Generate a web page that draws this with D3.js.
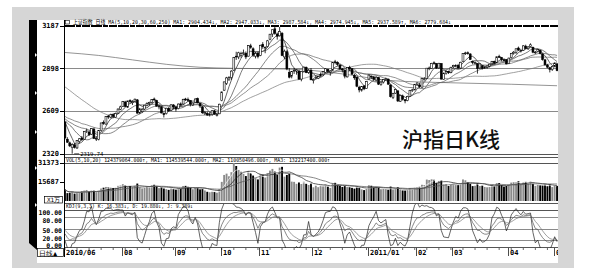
<!DOCTYPE html>
<html>
<head>
<meta charset="utf-8">
<script src="https://d3js.org/d3.v7.min.js"></script>
<style>
  body { margin: 0; background: #fff; }
  svg { display: block; }
  .num { font-family: "DejaVu Sans Mono", monospace; font-size: 7px; font-weight: bold; fill: #000; }
  .hdr { font-family: "DejaVu Sans Mono", "Noto Sans CJK SC", monospace; font-size: 5.5px; fill: #000; }
  .title { font-family: "Noto Sans CJK SC", sans-serif; font-size: 21px; font-weight: 500; fill: #111; }
</style>
</head>
<body>
<div id="chart"></div>
<script>
// trading days per month, 2010/06 .. 2011/05
var monthLabels = ["2010/06", "07", "08", "09", "10", "11", "12", "2011/01", "02", "03", "04", "05"];
var monthDays = [2, 22, 22, 19, 16, 22, 23, 20, 15, 23, 19, 2];

// closes before the first visible day (for the moving averages)
var warmCloses = [3109,
  3148, 3129, 3156, 3161, 3125, 3157, 3134, 3165, 3166, 3173, 3130, 2980, 2999, 3033, 2994, 2983, 3015, 2929, 2921, 2871, 2870,
  2835, 2857, 2739, 2688, 2698, 2642, 2667, 2698, 2697, 2565, 2581, 2588, 2560, 2584, 2666, 2568, 2601, 2638, 2655, 2592,
  2553, 2571, 2561, 2553, 2528, 2524, 2573, 2569, 2568, 2536, 2514, 2587, 2585, 2569, 2575, 2552, 2536];

// daily [open, high, low, close]
var ohlc = [
  [2535,2536,2417,2427],[2418,2432,2393,2398],
  [2393,2402,2365,2373],[2361,2391,2320,2383],[2380,2392,2355,2363],[2359,2412,2352,2409],[2402,2425,2390,2421],[2426,2440,2406,2415],[2418,2473,2415,2470],[2472,2490,2460,2475],[2467,2478,2440,2449],[2452,2494,2448,2490],[2487,2496,2420,2424],[2419,2437,2406,2424],[2417,2480,2410,2476],[2476,2530,2472,2528],[2530,2545,2516,2527],[2520,2575,2518,2572],[2574,2584,2556,2572],[2567,2591,2560,2585],[2584,2594,2560,2573],[2567,2598,2564,2592],[2594,2627,2590,2622],[2621,2645,2615,2637],
  [2640,2677,2637,2672],[2670,2678,2635,2640],[2635,2679,2629,2677],[2680,2688,2660,2673],[2665,2682,2650,2672],[2675,2693,2670,2689],[2684,2690,2590,2595],[2596,2630,2588,2623],[2604,2630,2595,2621],[2622,2650,2615,2648],[2645,2668,2640,2661],[2660,2672,2645,2667],[2668,2690,2660,2686],[2690,2700,2675,2688],[2680,2685,2638,2642],[2640,2655,2620,2642],[2638,2641,2592,2596],[2591,2600,2565,2589],[2591,2631,2585,2628],[2627,2635,2603,2610],[2613,2655,2610,2651],[2650,2655,2620,2638],
  [2637,2640,2605,2622],[2625,2660,2620,2656],[2657,2667,2640,2655],[2656,2692,2653,2688],[2690,2698,2677,2689],[2686,2700,2672,2683],[2680,2683,2640,2657],[2650,2668,2643,2663],[2668,2695,2665,2690],[2693,2700,2660,2664],[2660,2664,2630,2643],[2637,2642,2590,2597],[2590,2610,2582,2598],[2593,2605,2576,2582],[2580,2600,2572,2588],[2585,2615,2575,2611],[2610,2617,2585,2587],[2580,2595,2572,2586],[2590,2658,2588,2655],
  [2680,2740,2675,2738],[2750,2808,2745,2806],[2795,2840,2785,2833],[2825,2845,2812,2836],[2835,2885,2820,2879],[2885,2975,2880,2971],[2980,3010,2955,2978],[2975,3010,2960,3003],[2985,3010,2970,2998],[3000,3025,2990,3003],[3000,3012,2960,2975],[2980,3055,2978,3051],[3050,3064,3030,3040],[3030,3040,2975,2987],[2980,3010,2965,2999],[3000,3010,2965,2978],
  [2985,3057,2980,3054],[3060,3075,3030,3044],[3040,3045,3000,3041],[3045,3090,3040,3084],[3095,3130,3088,3129],[3130,3160,3110,3159],[3165,3180,3125,3135],[3130,3140,3092,3115],[3118,3187,3112,3147],[3135,3144,2980,2985],[2975,3025,2960,3014],[3010,3020,2885,2894],[2870,2900,2830,2838],[2845,2880,2830,2875],[2880,2900,2860,2884],[2880,2893,2855,2888],[2880,2885,2820,2825],[2825,2880,2810,2877],[2876,2910,2870,2906],[2905,2910,2865,2870],[2870,2893,2860,2885],[2885,2900,2818,2820],
  [2815,2830,2795,2823],[2828,2850,2820,2837],[2830,2848,2825,2842],[2845,2870,2840,2857],[2855,2880,2845,2875],[2870,2900,2865,2895],[2890,2895,2865,2878],[2872,2885,2848,2880],[2885,2940,2880,2938],[2942,2955,2925,2940],[2938,2945,2915,2925],[2920,2928,2885,2895],[2892,2900,2870,2888],[2885,2890,2830,2845],[2840,2905,2835,2903],[2905,2915,2880,2895],[2895,2898,2855,2858],[2850,2860,2820,2834],[2838,2840,2770,2777],[2770,2780,2735,2752],[2750,2778,2740,2775],[2778,2785,2750,2759],[2760,2810,2758,2808],
  [2825,2856,2822,2852],[2845,2850,2825,2839],[2840,2845,2815,2824],[2818,2845,2808,2838],[2835,2840,2785,2791],[2788,2810,2780,2805],[2805,2825,2795,2821],[2825,2835,2815,2827],[2825,2828,2785,2791],[2785,2790,2700,2706],[2700,2732,2690,2728],[2730,2760,2725,2755],[2745,2750,2670,2677],[2675,2720,2670,2715],[2710,2720,2680,2688],[2685,2690,2661,2678],[2680,2712,2675,2708],[2708,2752,2705,2749],[2748,2760,2738,2752],[2752,2792,2750,2790],
  [2790,2802,2780,2799],[2785,2800,2765,2774],[2770,2830,2768,2828],[2825,2838,2815,2827],[2830,2900,2828,2899],[2900,2910,2885,2900],[2898,2935,2896,2931],[2935,2945,2922,2934],[2930,2932,2895,2899],[2900,2935,2895,2932],[2930,2932,2822,2825],[2822,2870,2820,2863],[2865,2885,2855,2875],[2875,2882,2860,2871],[2868,2908,2865,2905],
  [2908,2922,2900,2918],[2915,2925,2905,2917],[2918,2928,2895,2900],[2900,2942,2895,2939],[2945,3000,2943,2997],[2998,3010,2988,3002],[3003,3012,2990,3000],[2995,3000,2955,2958],[2945,2950,2925,2937],[2935,2945,2925,2937],[2930,2932,2862,2896],[2900,2930,2895,2928],[2915,2920,2890,2897],[2900,2912,2895,2906],[2905,2918,2895,2914],[2913,2928,2905,2926],[2928,2948,2922,2944],[2945,2950,2925,2933],[2935,2978,2933,2976],[2978,2990,2968,2974],[2970,2975,2945,2957],[2955,2965,2945,2953],[2955,2960,2925,2928],
  [2930,2970,2928,2967],[2970,3002,2965,2999],[3000,3015,2990,3007],[3005,3033,2995,3030],[3035,3045,3015,3022],[3020,3030,3005,3020],[3020,3055,3015,3050],[3048,3058,3025,3033],[3030,3048,3022,3043],[3045,3067,3040,3057],[3040,3045,3000,3007],[3005,3015,2995,3008],[3012,3030,3005,3026],[3020,3024,2992,2999],[2995,2998,2950,2957],[2955,2962,2915,2922],[2920,2928,2898,2906],[2902,2908,2870,2890],[2890,2915,2880,2911],
  [2915,2938,2905,2932],[2928,2932,2878,2883]
];

// daily volume, x1万
var volumes = [
  9500, 6500,
  6800, 7600, 6100, 6900, 7200, 7800, 8600, 9100, 7900, 8800, 8900, 7300, 8400, 10300, 11000, 11600, 11200, 11400, 10800, 11100, 12500, 12800,
  13900, 13100, 12000, 12300, 11500, 12600, 14400, 11300, 10400, 10900, 12000, 12100, 12900, 13400, 12200, 10600, 11100, 10300, 9800, 9200, 10800, 10100,
  9500, 10700, 10300, 12400, 12500, 11800, 11000, 9700, 10800, 10900, 9600, 10000, 8700, 7600, 7200, 7700, 7500, 7000, 9800,
  15800, 21500, 22600, 20400, 23800, 31373, 28900, 25700, 24200, 22400, 20600, 24800, 23100, 21000, 18900, 17800,
  22200, 21700, 19400, 22800, 25100, 26500, 24300, 21600, 27600, 28200, 20100, 21500, 22500, 16000, 15800, 14200, 15300, 14000, 15900, 14300, 13200, 14800,
  11300, 12700, 11400, 12900, 12600, 13600, 11900, 10800, 14600, 15000, 13400, 12500, 11600, 12300, 11500, 11400, 10900, 10200, 11800, 11200, 9600, 9000, 9900,
  13000, 12600, 11800, 12300, 11100, 9700, 9900, 9800, 9400, 11900, 9600, 10100, 11400, 9500, 8700, 8600, 9000, 10700, 10400, 10900,
  11300, 11700, 13400, 13200, 17700, 17300, 17900, 17500, 15000, 16600, 17200, 13600, 13900, 12400, 13300,
  14300, 13700, 13300, 14400, 17800, 17100, 15700, 14100, 12300, 12600, 14700, 12400, 12900, 11600, 11300, 11500, 13300, 12500, 14700, 14800, 13100, 11900, 12400,
  13400, 15200, 15500, 15400, 16300, 14100, 15700, 15800, 14300, 16000, 14200, 12500, 13400, 12900, 12900, 13500, 12200, 13800, 11500,
  12900, 12438
];

// MA250 at a few days
var ma250Idx = [0, 14, 28, 42, 56, 70, 84, 97, 115, 135, 160, 185, 204];
var ma250Val = [3005, 2985, 2955, 2925, 2905, 2898, 2895, 2890, 2860, 2815, 2800, 2790, 2780];

var priceTicks = [3187, 2898, 2609, 2320];
var volTicks = [31373, 15687];
var kdjTicks = [100, 80, 50, 20, 0];
var maPeriods = [5, 10, 20, 30, 60];

var W = 601, H = 272;
var L = 64, R = 558;
var N = ohlc.length;

var svg = d3.select("#chart").append("svg").attr("width", W).attr("height", H);

// frame
svg.append("rect").attr("x", 12).attr("y", 7).attr("width", 562).attr("height", 261).attr("fill", "#d6d6d6");
svg.append("rect").attr("x", 37).attr("y", 20).attr("width", 521).attr("height", 243).attr("fill", "#fff");
svg.append("polygon").attr("points", "29,20 37,20 37,250 29,243").attr("fill", "#000");
[55, 93, 132, 168, 205].forEach(function(y) {
  svg.append("polygon").attr("points", (35) + "," + (y - 2) + " 37," + y + " 35," + (y + 2)).attr("fill", "#fff");
});

var x = d3.scaleBand().domain(d3.range(N)).range([L, R]).paddingInner(0.22);
var bw = x.bandwidth();
function cx(i) { return x(i) + bw / 2; }

var y = d3.scaleLinear().domain([2320, 3187]).range([153.7, 25.6]);
var yv = d3.scaleLinear().domain([0, 31373]).range([201, 163]);
var yk = d3.scaleLinear().domain([0, 100]).range([247, 210]);

var defs = svg.append("defs");
defs.append("clipPath").attr("id", "cp").append("rect").attr("x", L).attr("y", 27).attr("width", R - L).attr("height", 127);
defs.append("clipPath").attr("id", "cv").append("rect").attr("x", L).attr("y", 163).attr("width", R - L).attr("height", 38);
defs.append("clipPath").attr("id", "ck").append("rect").attr("x", L).attr("y", 204).attr("width", R - L).attr("height", 44);

// grid and separators
var grid = svg.append("g").attr("stroke", "#8a8a8a").attr("stroke-width", 1);
[2898, 2609].forEach(function(v) {
  grid.append("line").attr("x1", L).attr("x2", R).attr("y1", Math.round(y(v)) + 0.5).attr("y2", Math.round(y(v)) + 0.5);
});
[80, 50, 20].forEach(function(v) {
  grid.append("line").attr("x1", L).attr("x2", R).attr("y1", Math.round(yk(v)) + 0.5).attr("y2", Math.round(yk(v)) + 0.5);
});
var sep = svg.append("g").attr("stroke", "#555").attr("stroke-width", 1);
[154.5, 157.5, 163.5, 203.5, 210.5, 247.5].forEach(function(yy) {
  sep.append("line").attr("x1", L).attr("x2", R).attr("y1", yy).attr("y2", yy);
});
svg.append("line").attr("x1", L + 0.5).attr("x2", L + 0.5).attr("y1", 20).attr("y2", 257).attr("stroke", "#000");

// header bar of price panel
svg.append("line").attr("x1", L).attr("x2", R).attr("y1", 26).attr("y2", 26)
  .attr("stroke", "#000").attr("stroke-width", 2).attr("stroke-dasharray", "11,1,5,1,8,1");
svg.append("rect").attr("x", 65.5).attr("y", 20.5).attr("width", 4).attr("height", 3.5).attr("fill", "none").attr("stroke", "#000").attr("stroke-width", 0.6);
svg.append("text").attr("class", "hdr").attr("x", 73).attr("y", 24.2)
  .attr("textLength", 378).attr("lengthAdjust", "spacingAndGlyphs")
  .text("上证指数 日线 MA(5,10,20,30,60,250) MA1: 2904.434↓, MA2: 2947.033↓, MA3: 2987.584↓, MA4: 2974.945↓, MA5: 2937.589↑, MA6: 2779.684↓");

// price axis labels
priceTicks.forEach(function(v) {
  var yy = y(v);
  svg.append("text").attr("class", "num").attr("x", 59).attr("y", yy).attr("dy", "0.35em").attr("text-anchor", "end").text(v);
  svg.append("line").attr("x1", 60).attr("x2", 64).attr("y1", Math.round(yy) + 0.5).attr("y2", Math.round(yy) + 0.5).attr("stroke", "#000");
});

// moving averages
var closes = ohlc.map(function(d) { return d[3]; });
var allCloses = warmCloses.concat(closes);
var off = warmCloses.length;
function maOf(n) {
  return closes.map(function(c, i) {
    var s = allCloses.slice(Math.max(0, i + off - n + 1), i + off + 1);
    return d3.mean(s);
  });
}
var line = d3.line().x(function(d, i) { return cx(i); }).y(function(d) { return y(d); });
var gp = svg.append("g").attr("clip-path", "url(#cp)");
var maColors = ["#222", "#444", "#555", "#666", "#777"];
maPeriods.forEach(function(n, k) {
  gp.append("path").attr("d", line(maOf(n))).attr("fill", "none").attr("stroke", maColors[k]).attr("stroke-width", 0.7);
});
var ma250 = ma250Idx.map(function(i, k) { return [i, ma250Val[k]]; });
gp.append("path")
  .attr("d", d3.line().curve(d3.curveMonotoneX).x(function(d) { return cx(Math.min(d[0], N - 1)); }).y(function(d) { return y(d[1]); })(ma250))
  .attr("fill", "none").attr("stroke", "#666").attr("stroke-width", 0.7);

// candles
var cg = gp.append("g");
ohlc.forEach(function(d, i) {
  var o = d[0], h = d[1], l = d[2], c = d[3];
  cg.append("line").attr("x1", cx(i)).attr("x2", cx(i)).attr("y1", y(h)).attr("y2", y(l)).attr("stroke", "#000").attr("stroke-width", 0.8);
  var top = y(Math.max(o, c)), bot = y(Math.min(o, c));
  cg.append("rect").attr("x", x(i)).attr("y", top).attr("width", bw).attr("height", Math.max(0.8, bot - top))
    .attr("fill", c >= o ? "#fff" : "#000").attr("stroke", "#000").attr("stroke-width", 0.6);
});

// lowest point marker
var lowIdx = d3.minIndex(ohlc, function(d) { return d[2]; });
svg.append("line").attr("x1", cx(lowIdx) + 2).attr("x2", cx(lowIdx) + 7).attr("y1", y(ohlc[lowIdx][2])).attr("y2", y(ohlc[lowIdx][2])).attr("stroke", "#000").attr("stroke-width", 0.6);
svg.append("text").attr("class", "hdr").attr("x", cx(lowIdx) + 8).attr("y", y(ohlc[lowIdx][2]) + 2).text("2319.74");

// title
svg.append("text").attr("class", "title").attr("x", 451).attr("y", 147).attr("text-anchor", "middle").text("沪指日K线");

// volume panel
svg.append("text").attr("class", "hdr").attr("x", 66).attr("y", 161.5)
  .attr("textLength", 264).attr("lengthAdjust", "spacingAndGlyphs")
  .text("VOL(5,10,20) 124379064.000↑, MA1: 114539544.000↑, MA2: 110050496.000↑, MA3: 132217400.000↑");
volTicks.forEach(function(v) {
  var yy = yv(v);
  svg.append("text").attr("class", "num").attr("x", 59).attr("y", yy).attr("dy", "0.35em").attr("text-anchor", "end").text(v);
  svg.append("line").attr("x1", 60).attr("x2", 64).attr("y1", Math.round(yy) + 0.5).attr("y2", Math.round(yy) + 0.5).attr("stroke", "#000");
});
var gv = svg.append("g").attr("clip-path", "url(#cv)");
volumes.forEach(function(v, i) {
  var up = ohlc[i][3] >= ohlc[i][0];
  gv.append("rect").attr("x", x(i)).attr("y", yv(v)).attr("width", bw).attr("height", yv(0) - yv(v))
    .attr("fill", up ? "#8a8a8a" : "#000");
});
[5, 10, 20].forEach(function(n, k) {
  var m = volumes.map(function(v, i) { return d3.mean(volumes.slice(Math.max(0, i - n + 1), i + 1)); });
  gv.append("path").attr("d", d3.line().x(function(d, i) { return cx(i); }).y(function(d) { return yv(d); })(m))
    .attr("fill", "none").attr("stroke", ["#fff", "#222", "#555"][k]).attr("stroke-width", 0.7);
});
svg.append("rect").attr("x", 44.5).attr("y", 196.5).attr("width", 18).attr("height", 6.5).attr("fill", "#fff").attr("stroke", "#000").attr("stroke-width", 0.7);
svg.append("text").attr("class", "hdr").attr("x", 53.5).attr("y", 201.8).attr("text-anchor", "middle").style("font-size", "6px").text("X1万");

// KDJ panel
var K = [], D = [], J = [];
var kv = 50, dv = 50;
ohlc.forEach(function(d, i) {
  var win = ohlc.slice(Math.max(0, i - 8), i + 1);
  var lo = d3.min(win, function(e) { return e[2]; });
  var hi = d3.max(win, function(e) { return e[1]; });
  var rsv = hi > lo ? (d[3] - lo) / (hi - lo) * 100 : 50;
  kv = (2 * kv + rsv) / 3;
  dv = (2 * dv + kv) / 3;
  K.push(kv); D.push(dv); J.push(3 * kv - 2 * dv);
});
svg.append("text").attr("class", "hdr").attr("x", 66).attr("y", 208.3)
  .attr("textLength", 127).attr("lengthAdjust", "spacingAndGlyphs")
  .text("KDJ(9,3,3) K: 16.383↓, D: 19.880↓, J: 9.389↓");
// label offsets keep the tight lower labels apart
var kdjLabelShift = { 100: 2.5, 80: 3, 50: 2.5, 20: -0.5, 0: -0.8 };
kdjTicks.forEach(function(v) {
  var yy = yk(v) + kdjLabelShift[v];
  svg.append("text").attr("class", "num").attr("x", 62).attr("y", yy).attr("dy", "0.35em").attr("text-anchor", "end")
    .style("font-size", "6.5px").text(v.toFixed(2));
});
var gk = svg.append("g").attr("clip-path", "url(#ck)");
var lk = d3.line().curve(d3.curveLinear).x(function(d, i) { return cx(i); }).y(function(d) { return yk(d); });
[[J, "#222"], [K, "#555"], [D, "#777"]].forEach(function(p) {
  gk.append("path").attr("d", lk(p[0])).attr("fill", "none").attr("stroke", p[1]).attr("stroke-width", 0.7);
});

// date axis
svg.append("rect").attr("x", 37.5).attr("y", 248.5).attr("width", 26).attr("height", 8).attr("fill", "#fff").attr("stroke", "#000").attr("stroke-width", 0.7);
svg.append("text").attr("class", "num").attr("x", 39).attr("y", 255.5).style("font-weight", "normal").text("日线▲");
var startIdx = 0, lastEnd = -100;
monthLabels.forEach(function(lab, m) {
  var xx = Math.round(x(startIdx)) + 0.5;
  var w = lab.length * 4.2;
  if (xx > lastEnd + 2) {
    svg.append("line").attr("x1", xx).attr("x2", xx).attr("y1", 248).attr("y2", 256).attr("stroke", "#000").attr("stroke-width", 0.7);
    svg.append("text").attr("class", "num").attr("x", xx + 1.5).attr("y", 255).text(lab);
    lastEnd = xx + w;
  }
  startIdx += monthDays[m];
});
for (var i = 0; i < N; i += 5) {
  svg.append("line").attr("x1", cx(i)).attr("x2", cx(i)).attr("y1", 248).attr("y2", 250).attr("stroke", "#000").attr("stroke-width", 0.6);
}

// right frame edge over the clipped labels
svg.append("rect").attr("x", 558).attr("y", 7).attr("width", 16).attr("height", 261).attr("fill", "#d6d6d6");
svg.append("rect").attr("x", 574).attr("y", 0).attr("width", 27).attr("height", H).attr("fill", "#fff");
</script>
</body>
</html>
